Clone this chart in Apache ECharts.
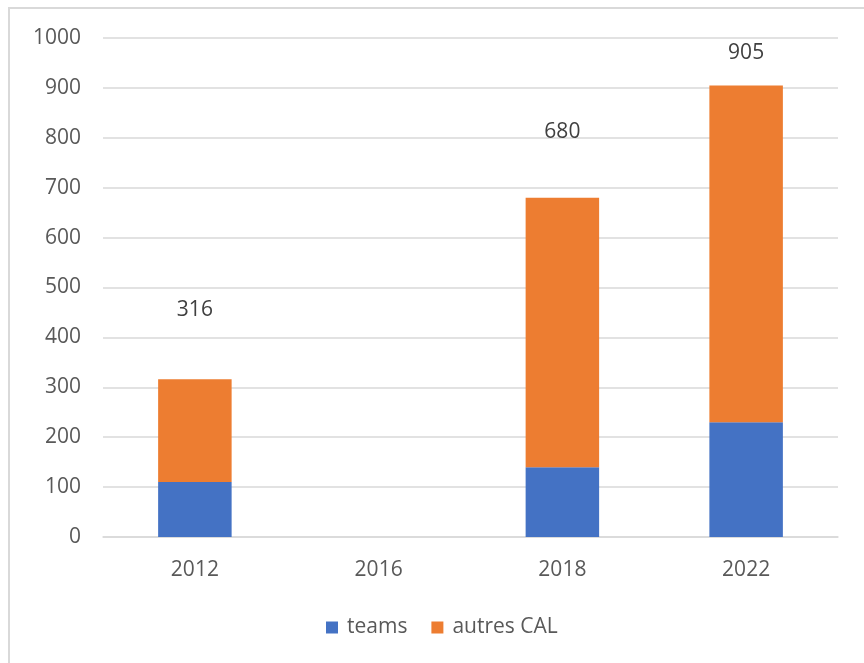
<!DOCTYPE html>
<html>
<head>
<meta charset="utf-8">
<script src="https://cdn.jsdelivr.net/npm/echarts@6/dist/echarts.min.js"></script>
<style>
    body { margin: 0; background: #fff; }
    #frame { position: absolute; left: 8px; top: 7px; width: 900px; height: 700px;
             border-left: 2px solid #d9d9d9; border-top: 2px solid #d9d9d9; }
    #chart { position: absolute; left: 0; top: 0; width: 864px; height: 663px; }
</style>
</head>
<body>
<div id="frame"></div>
<div id="chart"></div>
<script>
var years = ['2012', '2016', '2018', '2022'];
var teams = [110, null, 140, 230];
var autres = [206, null, 540, 675];
var totals = [316, null, 680, 905];

var mychart = echarts.init(document.getElementById('chart'));

// excel put the total labels at uneven heights above the bars
var lift = [59, 0, 55, 22];

option = {
    textStyle: { fontFamily: 'Open Sans' },
    grid: {
        left: 103,
        right: 26,
        top: 38,
        bottom: 126
    },
    legend: {
        bottom: 20,
        left: 321,
        itemWidth: 12,
        itemHeight: 12,
        itemGap: 24,
        icon: 'rect',
        textStyle: { fontSize: 21, color: '#595959', padding: [0, 0, 0, 4] },
        data: ['teams', 'autres CAL']
    },
    xAxis: {
        type: 'category',
        data: years,
        axisLine: { lineStyle: { color: '#d9d9d9', width: 1.5 } },
        axisTick: { show: false },
        axisLabel: { fontSize: 21, color: '#595959', margin: 23 }
    },
    yAxis: {
        type: 'value',
        min: 0,
        max: 1000,
        interval: 100,
        axisLine: { show: false },
        axisTick: { show: false },
        splitLine: { lineStyle: { color: '#d9d9d9', width: 1.5 } },
        axisLabel: {
            fontSize: 21, color: '#595959', margin: 22,
            formatter: function (v) { return String(v); }
        }
    },
    series: [{
        name: 'teams',
        type: 'bar',
        stack: 'tot',
        barWidth: '40%',
        itemStyle: { color: '#4472c4' },
        data: teams
    }, {
        name: 'autres CAL',
        type: 'bar',
        stack: 'tot',
        barWidth: '40%',
        itemStyle: { color: '#ed7d31' },
        data: autres.map(function (v, i) {
            return {
                value: v,
                label: {
                    show: v != null,
                    position: 'top',
                    distance: lift[i],
                    fontSize: 21,
                    color: '#404040',
                    formatter: function () { return totals[i]; }
                }
            };
        })
    }]
};

mychart.setOption(option);
</script>
</body>
</html>
